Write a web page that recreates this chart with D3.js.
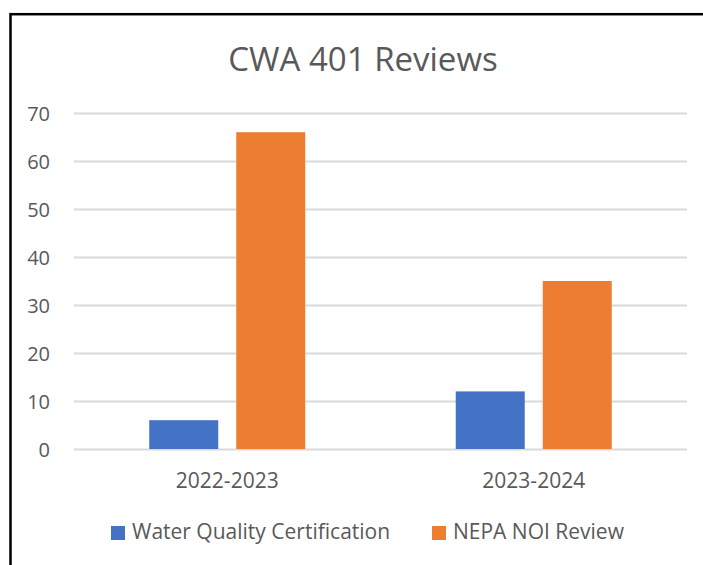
<!DOCTYPE html>
<html>
<head>
<meta charset="utf-8">
<script src="https://cdn.jsdelivr.net/npm/d3@7"></script>
<style>
  html, body { margin: 0; padding: 0; background: #fff; }
  svg { display: block; font-family: "Open Sans", "Noto Sans", sans-serif; }
  .grid line { stroke: #d9d9d9; stroke-width: 2; }
  .grid text, .cats text { fill: #595959; }
</style>
</head>
<body>
<svg id="chart" width="703" height="565"></svg>
<script>
"use strict";

// chart data
const categories = ["2022-2023", "2023-2024"];
const seriesNames = ["Water Quality Certification", "NEPA NOI Review"];
const waterQuality = [6, 12];
const nepaNoi = [66, 35];
const yTicks = [0, 10, 20, 30, 40, 50, 60, 70];
const colors = ["#4472c4", "#ed7d31"];

const seriesValues = [waterQuality, nepaNoi];

const svg = d3.select("#chart");
const plotLeft = 74, plotRight = 687, plotTop = 113, plotBottom = 449;

// frame around the chart (right and bottom run off the page)
svg.append("rect")
  .attr("x", 10.5).attr("y", 14.2)
  .attr("width", 800).attr("height", 700)
  .attr("fill", "none").attr("stroke", "#000").attr("stroke-width", 2.5);

svg.append("text")
  .attr("x", 363).attr("y", 71)
  .attr("text-anchor", "middle")
  .attr("font-size", 33)
  .attr("fill", "#595959")
  .text("CWA 401 Reviews");

const y = d3.scaleLinear().domain([0, 70]).range([plotBottom, plotTop]);

const x0 = d3.scaleBand().domain(categories).range([plotLeft, plotRight]).padding(0);
const groupW = 156;
const x1 = d3.scaleBand()
  .domain(seriesNames)
  .range([(x0.bandwidth() - groupW) / 2, (x0.bandwidth() + groupW) / 2])
  .paddingInner(0.207).paddingOuter(0);

// gridlines + value labels
const grid = svg.append("g")
  .attr("class", "grid")
  .attr("transform", `translate(${plotLeft},0)`)
  .call(d3.axisLeft(y).tickValues(yTicks).tickSize(-(plotRight - plotLeft)).tickPadding(24));
grid.select(".domain").remove();
grid.selectAll("text")
  .attr("font-size", 20)
  .attr("font-family", "'Open Sans', sans-serif")
  .attr("dy", "0.36em");

// bars
const groups = svg.append("g").selectAll("g")
  .data(categories)
  .join("g")
  .attr("transform", d => `translate(${x0(d)},0)`);

groups.selectAll("rect")
  .data((d, i) => seriesNames.map((s, j) => ({ s, j, v: seriesValues[j][i] })))
  .join("rect")
  .attr("x", d => x1(d.s))
  .attr("width", x1.bandwidth())
  .attr("y", d => y(d.v))
  .attr("height", d => y(0) - y(d.v))
  .attr("fill", d => colors[d.j]);

// category axis
const cats = svg.append("g")
  .attr("class", "cats")
  .attr("transform", `translate(0,${plotBottom})`)
  .call(d3.axisBottom(x0).tickSize(0));
cats.select(".domain").remove();
cats.selectAll("text")
  .attr("font-size", 21)
  .attr("font-family", "'Open Sans', sans-serif")
  .attr("y", 39).attr("dy", 0);

// legend
const legendX = [111, 432];
const legend = svg.append("g").selectAll("g")
  .data(seriesNames)
  .join("g")
  .attr("transform", (d, i) => `translate(${legendX[i]},526)`);
legend.append("rect")
  .attr("width", 14).attr("height", 14)
  .attr("fill", (d, i) => colors[i]);
legend.append("text")
  .attr("x", 21).attr("y", 13)
  .attr("font-size", 21)
  .attr("fill", "#595959")
  .text(d => d);
</script>
</body>
</html>
